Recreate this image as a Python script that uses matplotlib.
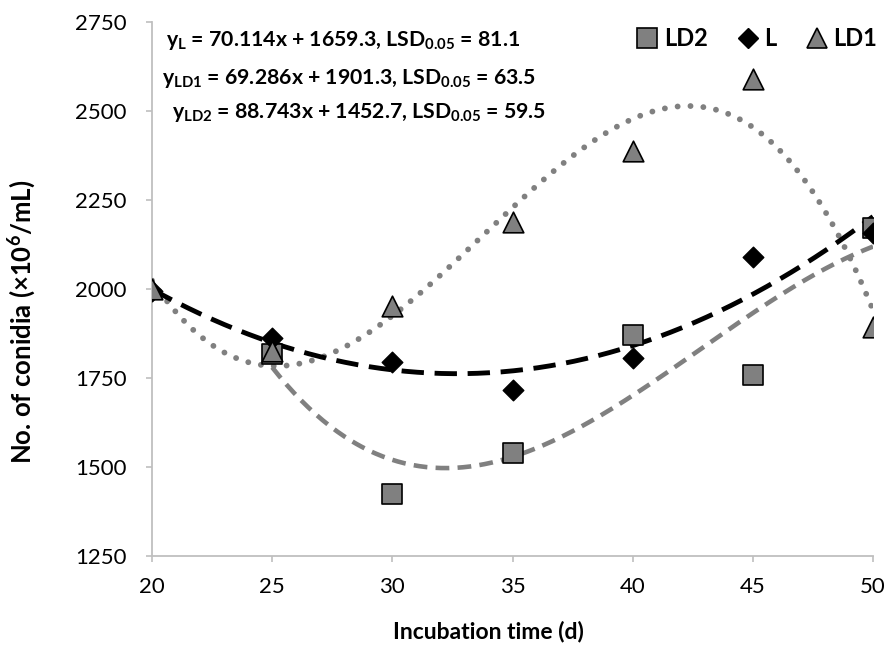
import numpy as np
import matplotlib
matplotlib.use("Agg")
import matplotlib.pyplot as plt
from matplotlib.lines import Line2D

plt.rcParams['font.family'] = ['Lato', 'DejaVu Sans']

# incubation time (d)
days = [20, 25, 30, 35, 40, 45, 50]
days_LD2 = [25, 30, 35, 40, 45, 50]

# No. of conidia (x10^6/mL)
conidia_L = [1995, 1862, 1795, 1716, 1806, 2090, 2157]
conidia_LD1 = [2000, 1825, 1952, 2187, 2387, 2590, 1893]
conidia_LD2 = [1817, 1425, 1539, 1870, 1758, 2172]

equations = [
    r'y$_\mathregular{L}$ = 70.114x + 1659.3, LSD$_\mathregular{0.05}$ = 81.1',
    r'y$_\mathregular{LD1}$ = 69.286x + 1901.3, LSD$_\mathregular{0.05}$ = 63.5',
    r'y$_\mathregular{LD2}$ = 88.743x + 1452.7, LSD$_\mathregular{0.05}$ = 59.5',
]

grey = '#808080'
axis_grey = '#BFBFBF'

fig = plt.figure(figsize=(8.91, 6.63), dpi=100)
ax = fig.add_axes([152 / 891, 1 - 556 / 663, 721 / 891, 534 / 663])

# polynomial trendlines (as in the spreadsheet)
xs = np.linspace(20, 50, 300)
xs2 = np.linspace(25, 50, 250)
fit_L = np.polyval(np.polyfit(days, conidia_L, 2), xs)
fit_LD1 = np.polyval(np.polyfit(days, conidia_LD1, 3), xs)
fit_LD2 = np.polyval(np.polyfit(days_LD2, conidia_LD2, 3), xs2)

ax.plot(xs, fit_LD1, color=grey, lw=4.2, dashes=(0.01, 2.2),
        dash_capstyle='round', zorder=2)
ax.plot(xs2, fit_LD2, color=grey, lw=3.3, dashes=(3.0, 1.8), zorder=2)
ax.plot(xs, fit_L, color='black', lw=3.5, dashes=(4.6, 2.2), zorder=2)

ax.scatter(days_LD2, conidia_LD2, marker='s', s=200, color=grey,
           edgecolor='black', linewidth=1.2, zorder=3)
ax.scatter(days, conidia_L, marker='D', s=110, color='black', zorder=4)
ax.scatter(days, conidia_LD1, marker='^', s=220, color=grey,
           edgecolor='black', linewidth=1.2, zorder=5)

ax.set_xlim(20, 50)
ax.set_ylim(1250, 2750)
ax.set_xticks(range(20, 51, 5))
ax.set_yticks(range(1250, 2751, 250))

for side in ['top', 'right']:
    ax.spines[side].set_visible(False)
for side in ['left', 'bottom']:
    ax.spines[side].set_color(axis_grey)
    ax.spines[side].set_linewidth(1.3)
ax.tick_params(axis='both', direction='out', length=4, width=1.2,
               color=axis_grey, labelsize=16)
ax.tick_params(axis='y', pad=14)
ax.tick_params(axis='x', pad=11)

fig.text(488 / 891, 1 - 632 / 663, 'Incubation time (d)', fontsize=16.5,
         fontweight='bold', ha='center', va='center')
fig.text(22 / 891, 1 - 322 / 663, r'No. of conidia (×10$^\mathregular{6}$/mL)',
         fontsize=18.5, fontweight='bold', ha='center', va='center',
         rotation=90)

eq_pos = [(166, 41), (162, 78), (172, 113)]
for txt, (px, py) in zip(equations, eq_pos):
    fig.text(px / 891, 1 - py / 663, txt, fontsize=15.3, fontweight='bold',
             va='center', ha='left')

handles = [
    Line2D([], [], ls='none', marker='s', ms=14, mfc=grey, mec='black', mew=1.2),
    Line2D([], [], ls='none', marker='D', ms=10, mfc='black', mec='black'),
    Line2D([], [], ls='none', marker='^', ms=15, mfc=grey, mec='black', mew=1.2),
]
leg = ax.legend(handles, ['LD2', 'L', 'LD1'], ncol=3, frameon=False,
                loc='upper right', bbox_to_anchor=(1.035, 1.03),
                prop={'weight': 'bold', 'size': 17}, handletextpad=0.2,
                columnspacing=1.2, handlelength=1.0)

fig.savefig('out.png', dpi=100)
